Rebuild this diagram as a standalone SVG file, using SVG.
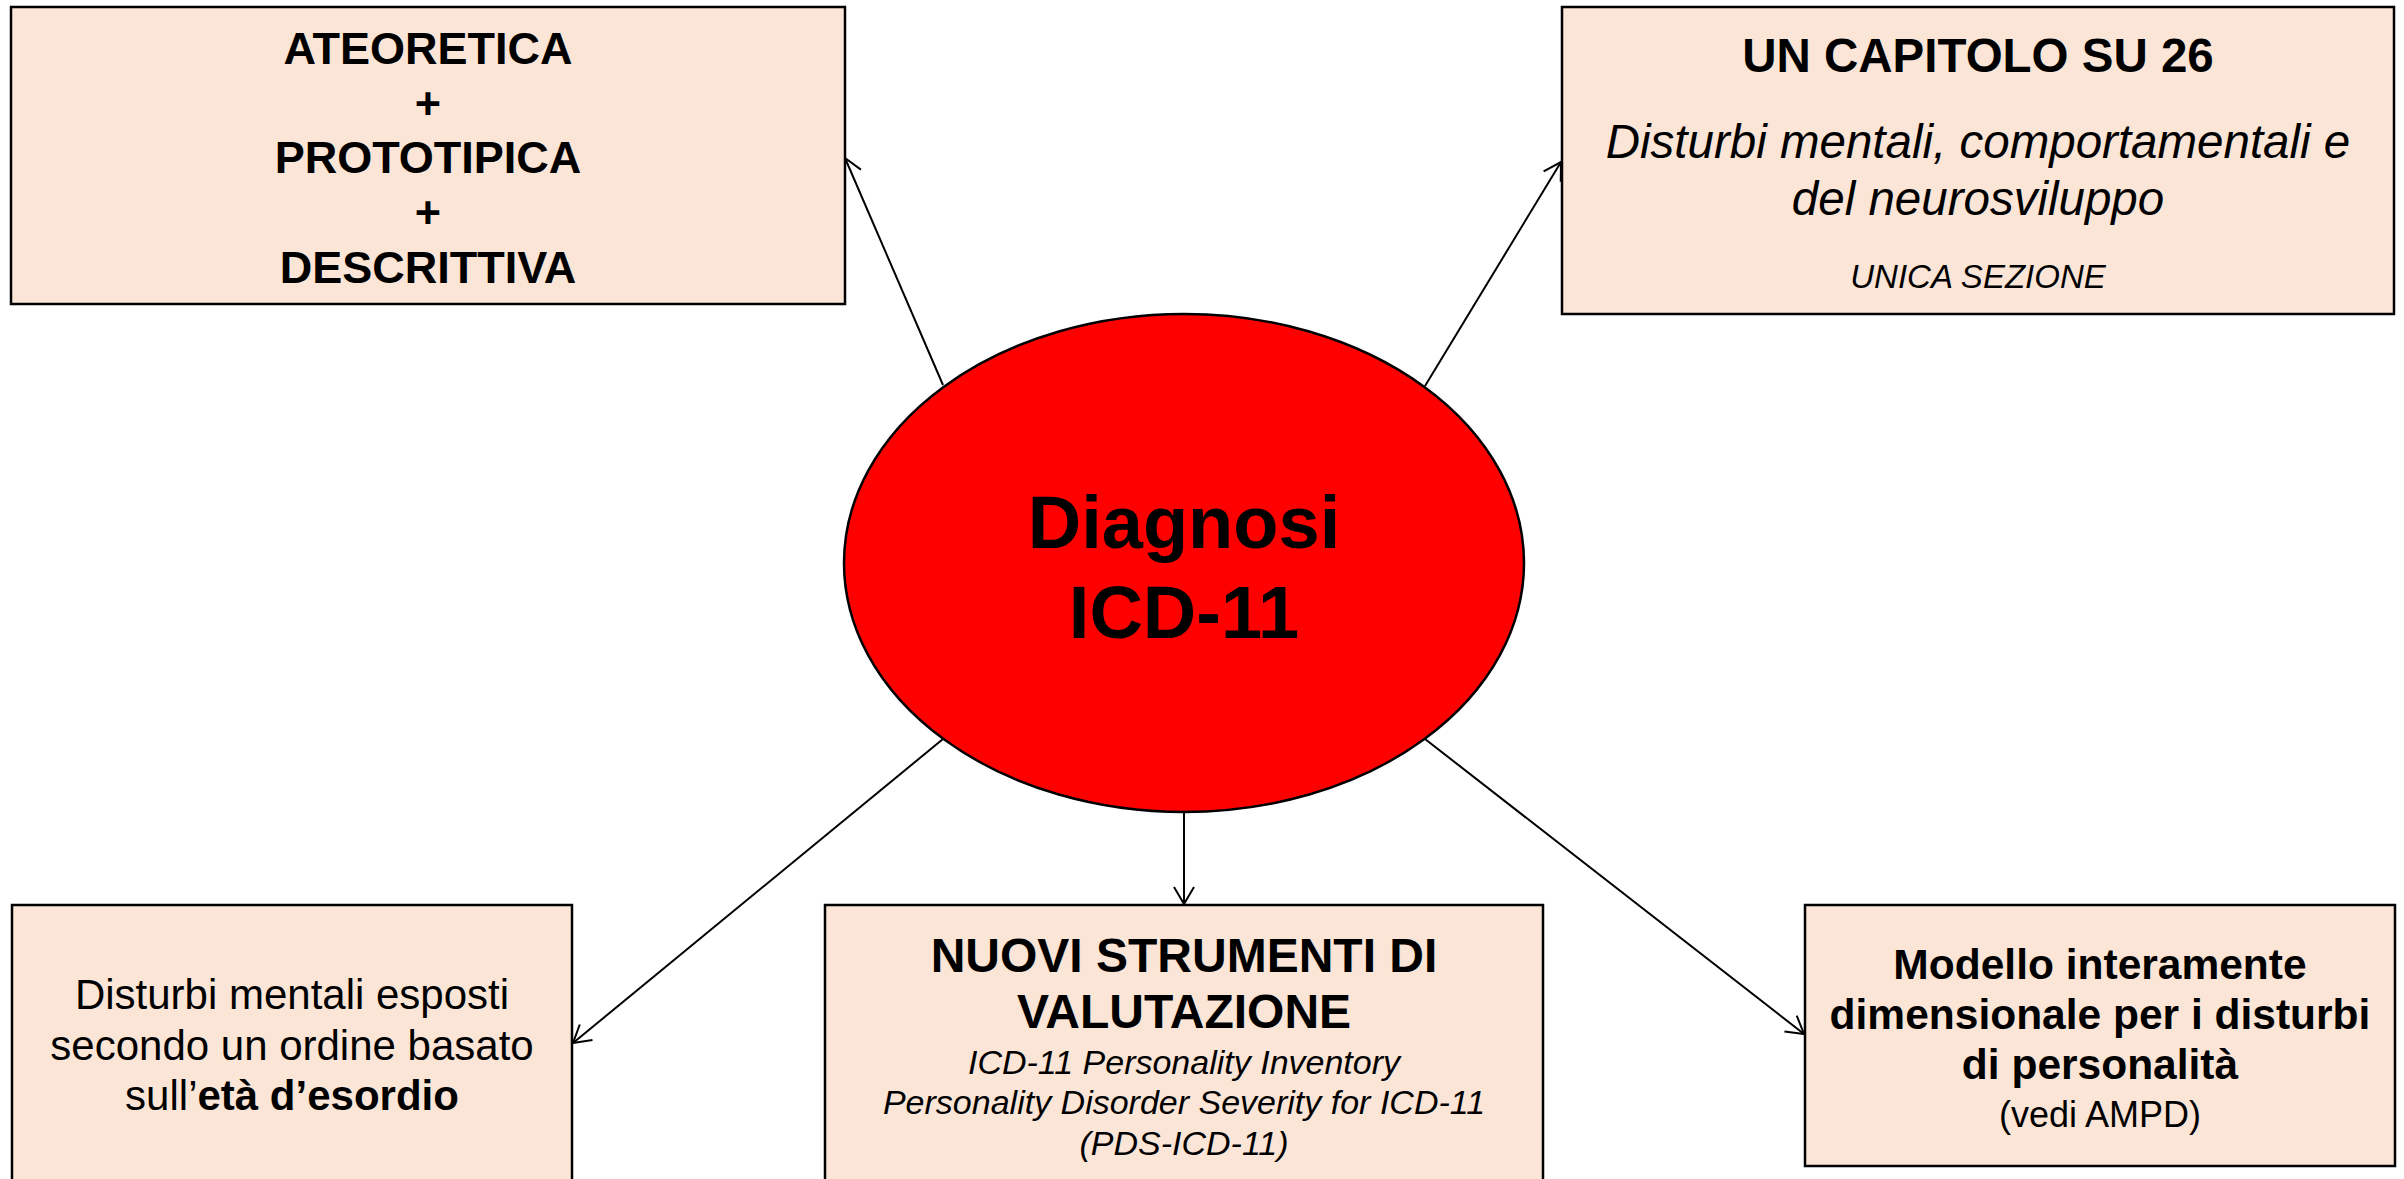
<svg xmlns="http://www.w3.org/2000/svg" width="2404" height="1179" viewBox="0 0 2404 1179">
<style>
.box{fill:#FBE5D6;stroke:#000;stroke-width:2.5}
.t{font-family:"Liberation Sans",Arial,sans-serif;text-anchor:middle;fill:#000}
.b{font-weight:bold}
.i{font-style:italic}
.con{stroke:#000;stroke-width:2;fill:none}
</style>
<defs>
<marker id="arr" markerUnits="userSpaceOnUse" viewBox="-22 -14 26 28" markerWidth="26" markerHeight="28" refX="0" refY="0" orient="auto">
<path d="M-17,-10 L0,0 L-17,10" fill="none" stroke="#000" stroke-width="2"/>
</marker>
</defs>
<rect width="2404" height="1179" fill="#fff"/>
<g id="connectors">
<line class="con" x1="943" y1="385" x2="845" y2="158" marker-end="url(#arr)"/>
<line class="con" x1="1425" y1="386" x2="1561" y2="162" marker-end="url(#arr)"/>
<line class="con" x1="943" y1="739" x2="573" y2="1043" marker-end="url(#arr)"/>
<line class="con" x1="1184" y1="812" x2="1184" y2="904" marker-end="url(#arr)"/>
<line class="con" x1="1425" y1="739" x2="1804" y2="1034" marker-end="url(#arr)"/>
</g>
<g id="center">
<ellipse cx="1184" cy="563" rx="340" ry="249" fill="#FF0000" stroke="#000" stroke-width="2.5"/>
<text class="t b" font-size="74" x="1184" y="548">Diagnosi</text>
<text class="t b" font-size="74" x="1184" y="638">ICD-11</text>
</g>
<g id="box-ateoretica">
<rect class="box" x="11" y="7" width="834" height="297"/>
<text class="t b" font-size="45" x="428" y="64">ATEORETICA</text>
<text class="t b" font-size="45" x="428" y="119">+</text>
<text class="t b" font-size="45" x="428" y="173">PROTOTIPICA</text>
<text class="t b" font-size="45" x="428" y="228">+</text>
<text class="t b" font-size="45" x="428" y="283">DESCRITTIVA</text>
</g>
<g id="box-capitolo">
<rect class="box" x="1562" y="7" width="832" height="307"/>
<text class="t b" font-size="47.5" x="1978" y="72">UN CAPITOLO SU 26</text>
<text class="t i" font-size="47.5" x="1978" y="158">Disturbi mentali, comportamentali e</text>
<text class="t i" font-size="47.5" x="1978" y="215">del neurosviluppo</text>
<text class="t i" font-size="33" x="1978" y="288">UNICA SEZIONE</text>
</g>
<g id="box-esordio">
<rect class="box" x="12" y="905" width="560" height="300"/>
<text class="t" font-size="42" x="292" y="1009">Disturbi mentali esposti</text>
<text class="t" font-size="42" x="292" y="1060">secondo un ordine basato</text>
<text class="t" font-size="42" x="292" y="1110">sull’<tspan class="b">età d’esordio</tspan></text>
</g>
<g id="box-strumenti">
<rect class="box" x="825" y="905" width="718" height="300"/>
<text class="t b" font-size="48" x="1184" y="972">NUOVI STRUMENTI DI</text>
<text class="t b" font-size="48" x="1184" y="1028">VALUTAZIONE</text>
<text class="t i" font-size="34" x="1184" y="1074">ICD-11 Personality Inventory</text>
<text class="t i" font-size="34" x="1184" y="1114">Personality Disorder Severity for ICD-11</text>
<text class="t i" font-size="34" x="1184" y="1155">(PDS-ICD-11)</text>
</g>
<g id="box-dimensionale">
<rect class="box" x="1805" y="905" width="590" height="261"/>
<text class="t b" font-size="42.5" x="2100" y="979">Modello interamente</text>
<text class="t b" font-size="42.5" x="2100" y="1029">dimensionale per i disturbi</text>
<text class="t b" font-size="42.5" x="2100" y="1079">di personalità</text>
<text class="t" font-size="36" x="2100" y="1127">(vedi AMPD)</text>
</g>
</svg>
